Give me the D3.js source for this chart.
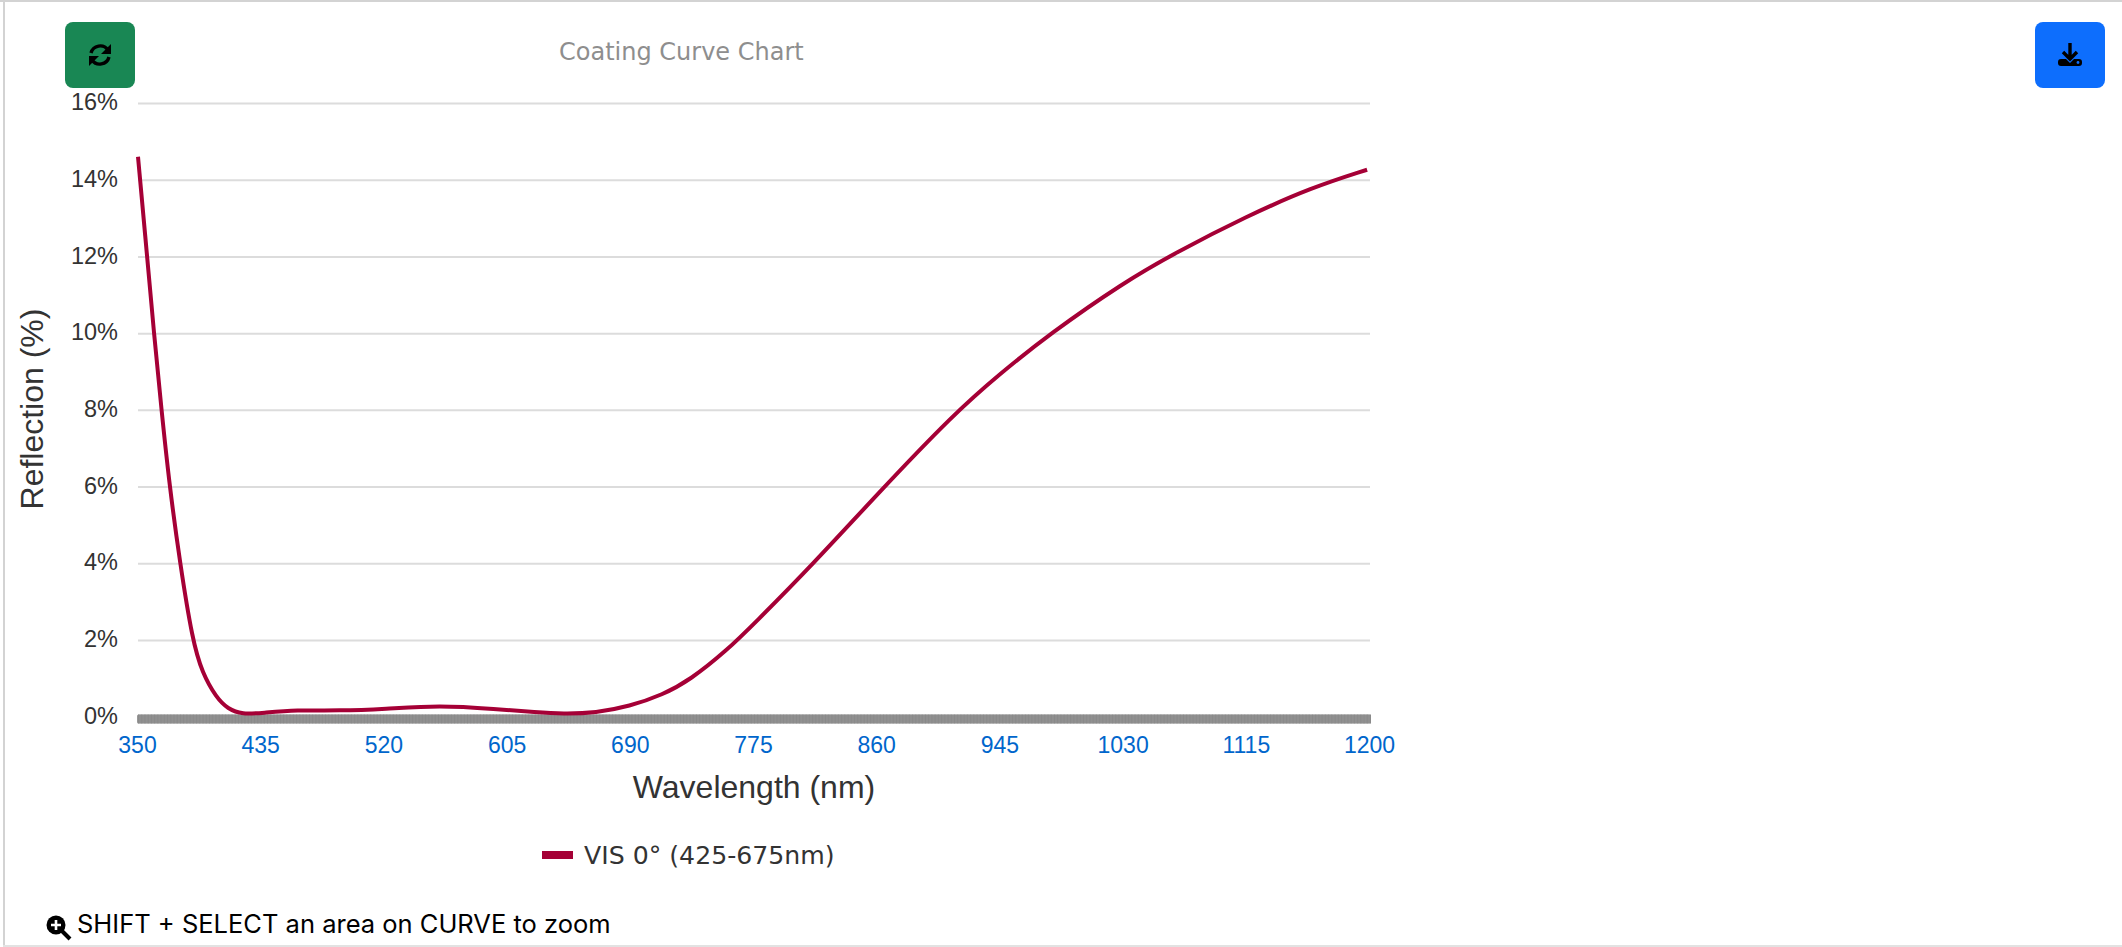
<!DOCTYPE html>
<html>
<head>
<meta charset="utf-8">
<style>
	body{
		margin: 0;
		background: white;
		overflow: hidden;
	}
	svg{
		display: block;
	}
	.tickFont{
		font-family: "Liberation Sans", Arial, sans-serif;
	}
</style>
</head>
<body>
<script src="https://d3js.org/d3.v7.min.js" charset="utf-8"></script>
<svg width="2122" height="947"></svg>
<script>
	// values
	var wavelengths = [350,356.3,361,366.2,371.8,379,387.5,394.4,404,412,422,436,459,489,520,558,597,625,643,666,689,712,731,756,775,815,860,913,945,979,1030,1065,1115,1160,1198];
	var reflection = [14.6,12,10,8,6,4,2,1.13,0.5,0.2,0.06,0.1,0.175,0.155,0.2,0.3,0.2,0.115,0.075,0.1,0.27,0.57,0.96,1.72,2.42,3.95,5.8,7.9,8.95,9.98,11.32,12.08,13.05,13.8,14.26];
	var xTickLabels = [350,435,520,605,690,775,860,945,1030,1115,1200];
	var yTickLabels = [0,2,4,6,8,10,12,14,16];
	var seriesName = "VIS 0° (425-675nm)";

	var left = 138, right = 1370, top0 = 103, bottom = 716.7;
	var svg = d3.select("svg");

	var x = d3.scaleLinear().domain([350,1200]).range([left,right]);
	var y = d3.scaleLinear().domain([0,16]).range([bottom,top0]);

	// page frame
	svg.append("rect").attr("x",0).attr("y",0).attr("width",2122).attr("height",2).attr("fill","#d3d3d3");
	svg.append("rect").attr("x",3).attr("y",0).attr("width",2).attr("height",947).attr("fill","#d3d3d3");
	svg.append("rect").attr("x",3).attr("y",945).attr("width",2119).attr("height",2).attr("fill","#e2e2e2");

	// buttons
	svg.append("rect").attr("x",65).attr("y",22).attr("width",70).attr("height",66).attr("rx",8).attr("fill","#198754");
	svg.append("rect").attr("x",2035).attr("y",22).attr("width",70).attr("height",66).attr("rx",8).attr("fill","#0d6efd");

	var sync = svg.append("g").attr("transform","translate(100,55)").attr("fill","none").attr("stroke","black").attr("stroke-width",3.4);
	sync.append("path").attr("d","M-9,-2 A9.5,9.5 0 0 1 8,-5");
	sync.append("path").attr("d","M9,2 A9.5,9.5 0 0 1 -8,5");
	sync.append("path").attr("d","M11,-11 L11,-1 L1,-1 Z").attr("fill","black").attr("stroke","none");
	sync.append("path").attr("d","M-11,11 L-11,1 L-1,1 Z").attr("fill","black").attr("stroke","none");

	var dl = svg.append("g").attr("transform","translate(2070,55)");
	dl.append("path").attr("d","M0,-12 L0,3 M-7,-3 L0,4 L7,-3").attr("fill","none").attr("stroke","black").attr("stroke-width",3.4);
	dl.append("path").attr("d","M-9,4 L-4,4 L0,8 L4,4 L9,4 Q12,4 12,7 L12,8 Q12,11 9,11 L-9,11 Q-12,11 -12,8 L-12,7 Q-12,4 -9,4 Z").attr("fill","black");
	dl.append("circle").attr("cx",8).attr("cy",7.5).attr("r",1.4).attr("fill","#0d6efd");

	// title
	svg.append("text").attr("x",559).attr("y",60)
		.style("font","24px 'DejaVu Sans'")
		.attr("fill","#8e8e8e")
		.text("Coating Curve Chart");

	// y axis with gridlines
	var yAxis = svg.append("g").attr("class","tickFont")
		.attr("transform","translate("+left+",0)")
		.call(d3.axisLeft(y).tickValues(yTickLabels).tickSize(-(right-left)).tickPadding(20).tickFormat(function(d){ return d+"%"; }));
	yAxis.select(".domain").remove();
	yAxis.selectAll(".tick").filter(function(d){ return d === 0; }).select("line").remove();
	yAxis.selectAll("line").attr("stroke","#dcdcdc").attr("stroke-width",2);
	yAxis.selectAll("text").attr("fill","#333").attr("dy","0.28em").style("font-size","23.5px");

	// x axis, one small tick per nm on a solid base makes the thick grey band
	svg.append("rect").attr("x",x(350)-1).attr("y",714.5).attr("width",x(1200)-x(350)+2).attr("height",9).attr("rx",1.5).attr("fill","#989898");
	var minor = svg.append("g")
		.attr("transform","translate(0,714.5)")
		.call(d3.axisBottom(x).tickValues(d3.range(350,1201,1)).tickSize(9).tickFormat(""));
	minor.select(".domain").remove();
	minor.selectAll("line").attr("stroke","#8a8a8a").attr("stroke-width",1);

	var xAxis = svg.append("g").attr("class","tickFont")
		.attr("transform","translate(-1,723)")
		.call(d3.axisBottom(x).tickValues(xTickLabels).tickSize(0).tickPadding(14).tickFormat(d3.format("d")));
	xAxis.select(".domain").remove();
	xAxis.selectAll("text").attr("fill","#0066cc").style("font-size","23px");

	// axis titles
	svg.append("text").attr("class","tickFont").attr("x",754).attr("y",798)
		.attr("text-anchor","middle").attr("fill","#333").style("font-size","32px")
		.text("Wavelength (nm)");
	svg.append("text").attr("class","tickFont")
		.attr("transform","translate(43,409) rotate(-90)")
		.attr("text-anchor","middle").attr("fill","#333").style("font-size","32px")
		.text("Reflection (%)");

	// curve
	var line = d3.line()
		.x(function(d){ return x(d[0]); })
		.y(function(d){ return y(d[1]); })
		.curve(d3.curveBasis);
	svg.append("path")
		.datum(d3.zip(wavelengths,reflection))
		.attr("d",line)
		.attr("fill","none")
		.attr("stroke","#a50036")
		.attr("stroke-width",4);

	// legend
	svg.append("rect").attr("x",542).attr("y",851).attr("width",31).attr("height",8).attr("fill","#a50036");
	svg.append("text").attr("x",584).attr("y",864)
		.style("font","25.2px 'DejaVu Sans'")
		.attr("fill","#333")
		.text(seriesName);

	// hint under the chart
	var glass = svg.append("g").attr("transform","translate(56,925)");
	glass.append("circle").attr("r",9.5).attr("fill","black");
	glass.append("path").attr("d","M6,6 L14,14").attr("stroke","black").attr("stroke-width",4);
	glass.append("path").attr("d","M-5,0 L5,0 M0,-5 L0,5").attr("stroke","white").attr("stroke-width",2.6);
	svg.append("text").attr("x",77).attr("y",933)
		.style("font","25.5px Inter")
		.attr("fill","black")
		.text("SHIFT + SELECT an area on CURVE to zoom");
</script>
</body>
</html>
